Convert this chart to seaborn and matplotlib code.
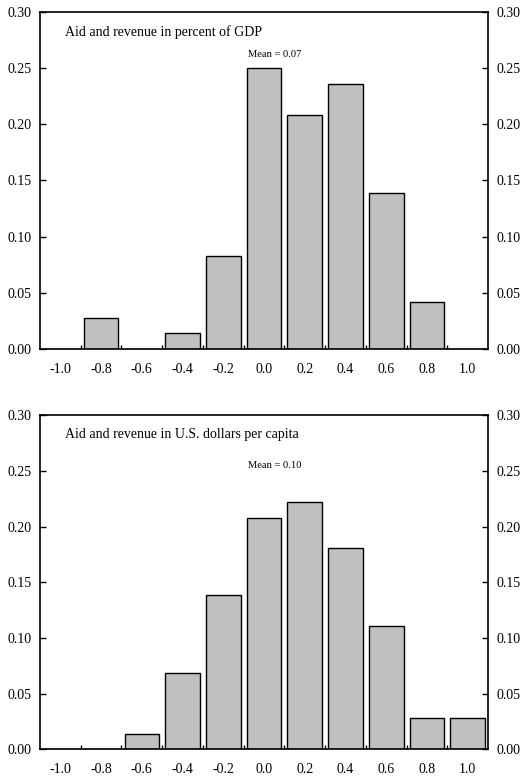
import matplotlib
matplotlib.use("Agg")
import matplotlib.pyplot as plt
from matplotlib import ticker
import seaborn as sns

sns.set_style("white")
plt.rcParams['font.family'] = ['Liberation Serif', 'DejaVu Serif']
plt.rcParams['text.color'] = 'black'
plt.rcParams['xtick.color'] = 'black'
plt.rcParams['ytick.color'] = 'black'

# bin labels and shares
bins = ["-1.0", "-0.8", "-0.6", "-0.4", "-0.2", "0.0", "0.2", "0.4", "0.6", "0.8", "1.0"]
gdp_share = [0.0, 0.028, 0.0, 0.014, 0.083, 0.250, 0.208, 0.236, 0.139, 0.042, 0.0]
percap_share = [0.0, 0.0, 0.014, 0.069, 0.139, 0.208, 0.222, 0.181, 0.111, 0.028, 0.028]

panels = [
    ("Aid and revenue in percent of GDP", "Mean = 0.07", 0.262, gdp_share,
     [0.0753, 0.552, 0.844, 0.4326]),
    ("Aid and revenue in U.S. dollars per capita", "Mean = 0.10", 0.255, percap_share,
     [0.0753, 0.038, 0.844, 0.429]),
]

fig = plt.figure(figsize=(5.31, 7.79), dpi=100)

for title, mean_txt, mean_y, vals, rect in panels:
    ax = fig.add_axes(rect)
    sns.barplot(x=bins, y=vals, color="#c0c0c0", edgecolor="black",
                linewidth=1.0, width=0.85, saturation=1, ax=ax)
    ax.set_xlim(-0.5, len(bins) - 0.5)
    ax.set_ylim(0, 0.30)
    ax.yaxis.set_major_locator(ticker.MultipleLocator(0.05))
    ax.yaxis.set_major_formatter(ticker.FormatStrFormatter("%.2f"))
    ax.tick_params(axis="y", direction="in", length=4, width=1.0,
                   left=True, right=True, labelleft=True, labelright=True,
                   labelsize=10, pad=6)
    ax.tick_params(axis="x", which="major", length=0, labelsize=10, pad=10)
    ax.xaxis.set_minor_locator(ticker.FixedLocator([i + 0.5 for i in range(len(bins) - 1)]))
    ax.tick_params(axis="x", which="minor", direction="in", length=3, width=1.0, bottom=True)
    for s in ax.spines.values():
        s.set_visible(True)
        s.set_color("black")
        s.set_linewidth(1.2)
    ax.set_xlabel("")
    ax.set_ylabel("")
    ax.text(0.055, 0.962, title, transform=ax.transAxes, fontsize=10, va="top", ha="left")
    ax.text(5.27, mean_y, mean_txt, fontsize=7.6, ha="center", va="center")

fig.savefig("out.png", dpi=100)
